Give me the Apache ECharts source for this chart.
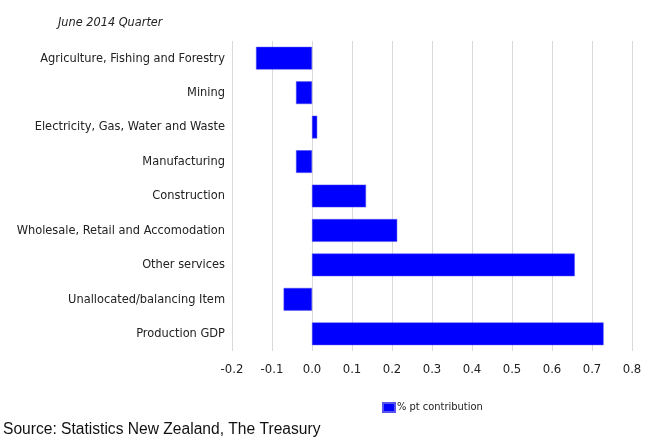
<!DOCTYPE html>
<html><head><meta charset="utf-8">
<script src="https://cdn.jsdelivr.net/npm/echarts@6/dist/echarts.min.js"></script>
<style>html,body{margin:0;padding:0;background:#fff}#c{width:645px;height:440px}</style>
</head><body><div id="c"></div>
<script>
const categories = ["Agriculture, Fishing and Forestry","Mining","Electricity, Gas, Water and Waste","Manufacturing","Construction","Wholesale, Retail and Accomodation","Other services","Unallocated/balancing Item","Production GDP"];
const values = [-0.14, -0.04, 0.013, -0.04, 0.135, 0.213, 0.657, -0.071, 0.729];
const seriesName = "% pt contribution";
const xTicks = {min: -0.2, max: 0.8, interval: 0.1};
const narrow = "'DejaVu Sans Condensed', 'Liberation Sans Narrow', sans-serif";
const chart = echarts.init(document.getElementById('c'), null, {renderer: 'canvas'});
chart.setOption({
  animation: false,
  title: [
    {text: 'June 2014 Quarter', left: 58, top: 16, padding: 0, textStyle: {fontFamily: narrow, fontStyle: 'italic', fontWeight: 'normal', fontSize: 12.6, color: '#222'}},
    {text: 'Source: Statistics New Zealand, The Treasury', left: 3, top: 422, padding: 0, textStyle: {fontFamily: "'Liberation Sans', Arial, sans-serif", fontWeight: 'normal', fontSize: 15.6, color: '#111'}}
  ],
  legend: {
    data: [seriesName], left: 377, top: 397, itemWidth: 12, itemHeight: 9, itemGap: 4, icon: 'rect',
    textStyle: {fontFamily: narrow, fontSize: 11, color: '#222', padding: [0,0,0,-3]}
  },
  grid: {left: 232, right: 13, top: 41, bottom: 89, outerBoundsMode: 'none'},
  xAxis: {
    type: 'value', min: xTicks.min, max: xTicks.max, interval: xTicks.interval,
    axisLine: {show: false}, axisTick: {show: false},
    splitLine: {show: true, lineStyle: {color: '#d9d9d9', width: 1}},
    axisLabel: {fontFamily: narrow, fontSize: 13, color: '#222', margin: 12,
      formatter: v => v.toFixed(1)}
  },
  yAxis: {
    type: 'category', data: categories, inverse: true,
    axisLine: {show: false}, axisTick: {show: false},
    axisLabel: {fontFamily: narrow, fontSize: 12.7, color: '#222', margin: 7}
  },
  series: [{
    name: seriesName, type: 'bar', data: values, barWidth: '66%',
    itemStyle: {color: '#0000ff', borderColor: '#5555ee', borderWidth: 0.5}
  }]
});
</script></body></html>
